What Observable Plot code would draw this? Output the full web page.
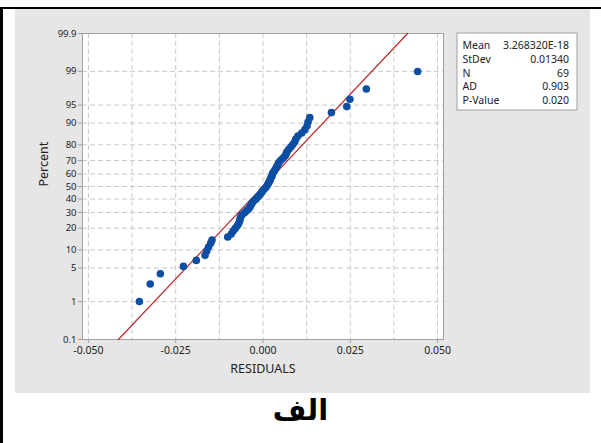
<!DOCTYPE html>
<html>
<head>
<meta charset="utf-8">
<script src="https://cdn.jsdelivr.net/npm/d3@7"></script>
<script src="https://cdn.jsdelivr.net/npm/@observablehq/plot@0.6"></script>
<style>
  html, body { margin: 0; padding: 0; background: #fff; }
  #page { position: relative; width: 601px; height: 443px; overflow: hidden; background: #fff; }
  #topline { position: absolute; left: 0; top: 7px; width: 601px; height: 2px; background: #000; }
  #leftline { position: absolute; left: 0; top: 7px; width: 3px; height: 436px; background: #000; }
  #panel { position: absolute; left: 15px; top: 9px; }
  #caption { position: absolute; left: 0; width: 601px; top: 393px; text-align: center;
             font-family: "DejaVu Sans", sans-serif; font-weight: bold; font-size: 29px; color: #000; }
</style>
</head>
<body>
<div id="page">
  <div id="topline"></div>
  <div id="leftline"></div>
  <div id="panel"></div>
  <div id="caption" dir="rtl">الف</div>
</div>
<script>
// Sorted residuals (69 values)
const residuals = [
  -0.0354, -0.0323, -0.0294, -0.0228, -0.0191,
  -0.0166, -0.0161, -0.0156, -0.0150, -0.0146,
  -0.0101, -0.0091, -0.0086, -0.0080, -0.0074,
  -0.0070, -0.0067, -0.0066, -0.0064, -0.0060,
  -0.0053, -0.0047, -0.0041, -0.0037, -0.0034,
  -0.0031, -0.0027, -0.0020, -0.0016, -0.0011,
  -0.0007, -0.0003, 0.0001, 0.0006, 0.0010,
  0.0013, 0.0016, 0.0019, 0.0021, 0.0023,
  0.0026, 0.0027, 0.0030, 0.0034, 0.0037,
  0.0040, 0.0043, 0.0046, 0.0051, 0.0057,
  0.0063, 0.0066, 0.0069, 0.0074, 0.0080,
  0.0086, 0.0091, 0.0094, 0.0100, 0.0111,
  0.0120, 0.0126, 0.0129, 0.0134, 0.0196,
  0.0240, 0.0249, 0.0296, 0.0443
];
const fitMean = 3.268320e-18;
const fitStDev = 0.01340;
const statLabels = ["Mean", "StDev", "N", "AD", "P-Value"];
const statValues = ["3.268320E-18", "0.01340", "69", "0.903", "0.020"];
const xTicks = [-0.050, -0.025, 0.000, 0.025, 0.050];
const xGrid = [-0.050, -0.0375, -0.025, -0.0125, 0.000, 0.0125, 0.025, 0.0375, 0.050];
const yTicks = [0.1, 1, 5, 10, 20, 30, 40, 50, 60, 70, 80, 90, 95, 99, 99.9];
const yTickLabels = ["0.1", "1", "5", "10", "20", "30", "40", "50", "60", "70", "80", "90", "95", "99", "99.9"];

// Inverse normal CDF (Acklam)
function probit(p) {
  const a = [-3.969683028665376e+01, 2.209460984245205e+02, -2.759285104469687e+02, 1.383577518672690e+02, -3.066479806614716e+01, 2.506628277459239e+00];
  const b = [-5.447609879822406e+01, 1.615858368580409e+02, -1.556989798598866e+02, 6.680131188771972e+01, -1.328068155288572e+01];
  const c = [-7.784894002430293e-03, -3.223964580411365e-01, -2.400758277161838e+00, -2.549732539343734e+00, 4.374664141464968e+00, 2.938163982698783e+00];
  const d = [7.784695709041462e-03, 3.224671290700398e-01, 2.445134137142996e+00, 3.754408661907416e+00];
  const pl = 0.02425, ph = 1 - pl;
  let q, r;
  if (p < pl) { q = Math.sqrt(-2 * Math.log(p)); return (((((c[0]*q+c[1])*q+c[2])*q+c[3])*q+c[4])*q+c[5]) / ((((d[0]*q+d[1])*q+d[2])*q+d[3])*q+1); }
  if (p <= ph) { q = p - 0.5; r = q*q; return (((((a[0]*r+a[1])*r+a[2])*r+a[3])*r+a[4])*r+a[5])*q / (((((b[0]*r+b[1])*r+b[2])*r+b[3])*r+b[4])*r+1); }
  q = Math.sqrt(-2 * Math.log(1 - p)); return -(((((c[0]*q+c[1])*q+c[2])*q+c[3])*q+c[4])*q+c[5]) / ((((d[0]*q+d[1])*q+d[2])*q+d[3])*q+1);
}

const n = residuals.length;
const points = residuals.map((r, i) => ({ x: r, z: probit((i + 1 - 0.3) / (n + 0.4)) }));
const zLo = probit(0.001), zHi = probit(0.999);
const fitLine = [zLo, zHi].map(z => ({ x: fitMean + fitStDev * z, z }));
const yTickZ = yTicks.map(p => probit(p / 100));
const yLabelFor = z => {
  let best = 0;
  yTickZ.forEach((t, i) => { if (Math.abs(t - z) < Math.abs(yTickZ[best] - z)) best = i; });
  return yTickLabels[best];
};
const yGridZ = yTickZ.slice(1, -1);

const font = "'Noto Sans', 'Open Sans', sans-serif";
const chart = Plot.plot({
  width: 575,
  height: 384,
  marginLeft: 67,
  marginTop: 24,
  marginRight: 147,
  marginBottom: 54,
  style: { background: "#e6e6e6", fontFamily: font, fontSize: "10px", color: "#222", overflow: "visible" },
  x: { domain: [-0.0517, 0.0517] },
  y: { domain: [zLo, zHi] },
  marks: [
    Plot.frame({ fill: "#fff", stroke: "none" }),
    Plot.ruleX(xGrid, { stroke: "#c8c8c8", strokeDasharray: "5,3", strokeWidth: 1 }),
    Plot.ruleY(yGridZ, { stroke: "#c8c8c8", strokeDasharray: "5,3", strokeWidth: 1 }),
    Plot.frame({ stroke: "#a0a0a0" }),
    Plot.line(fitLine, { x: "x", y: "z", stroke: "#c0282d", strokeWidth: 1.2 }),
    Plot.dot(points, { x: "x", y: "z", r: 3.8, fill: "#0b4ea2", stroke: "none" }),
    Plot.axisX({ ticks: xTicks, tickFormat: d => d.toFixed(3), tickSize: 4, tickPadding: 3, label: null, stroke: "#a0a0a0", fill: "#222", fontSize: 10.5 }),
    Plot.axisY({ ticks: yTickZ, tickFormat: yLabelFor, tickSize: 4, tickPadding: 2, label: null, stroke: "#a0a0a0", fill: "#222", fontSize: 9.5 }),
    Plot.text(["RESIDUALS"], { frameAnchor: "bottom", dy: 33, fontSize: 12.5, fill: "#222" }),
    Plot.text(["Percent"], { frameAnchor: "left", dx: -39, rotate: -90, fontSize: 12.5, fill: "#222" })
  ]
});
document.getElementById("panel").appendChild(chart);

// Statistics box
const svg = d3.select(chart);
const g = svg.append("g").attr("font-family", font).attr("font-size", 10.5).attr("fill", "#222");
g.append("rect").attr("x", 442).attr("y", 24).attr("width", 120).attr("height", 77)
  .attr("fill", "#fff").attr("stroke", "#a0a0a0");
statLabels.forEach((lab, i) => {
  const yy = 36.7 + i * 13.65;
  g.append("text").attr("x", 447.5).attr("y", yy).attr("dy", "0.35em").attr("text-anchor", "start").text(lab);
  g.append("text").attr("x", 554).attr("y", yy).attr("dy", "0.35em").attr("text-anchor", "end").text(statValues[i]);
});
</script>
</body>
</html>
